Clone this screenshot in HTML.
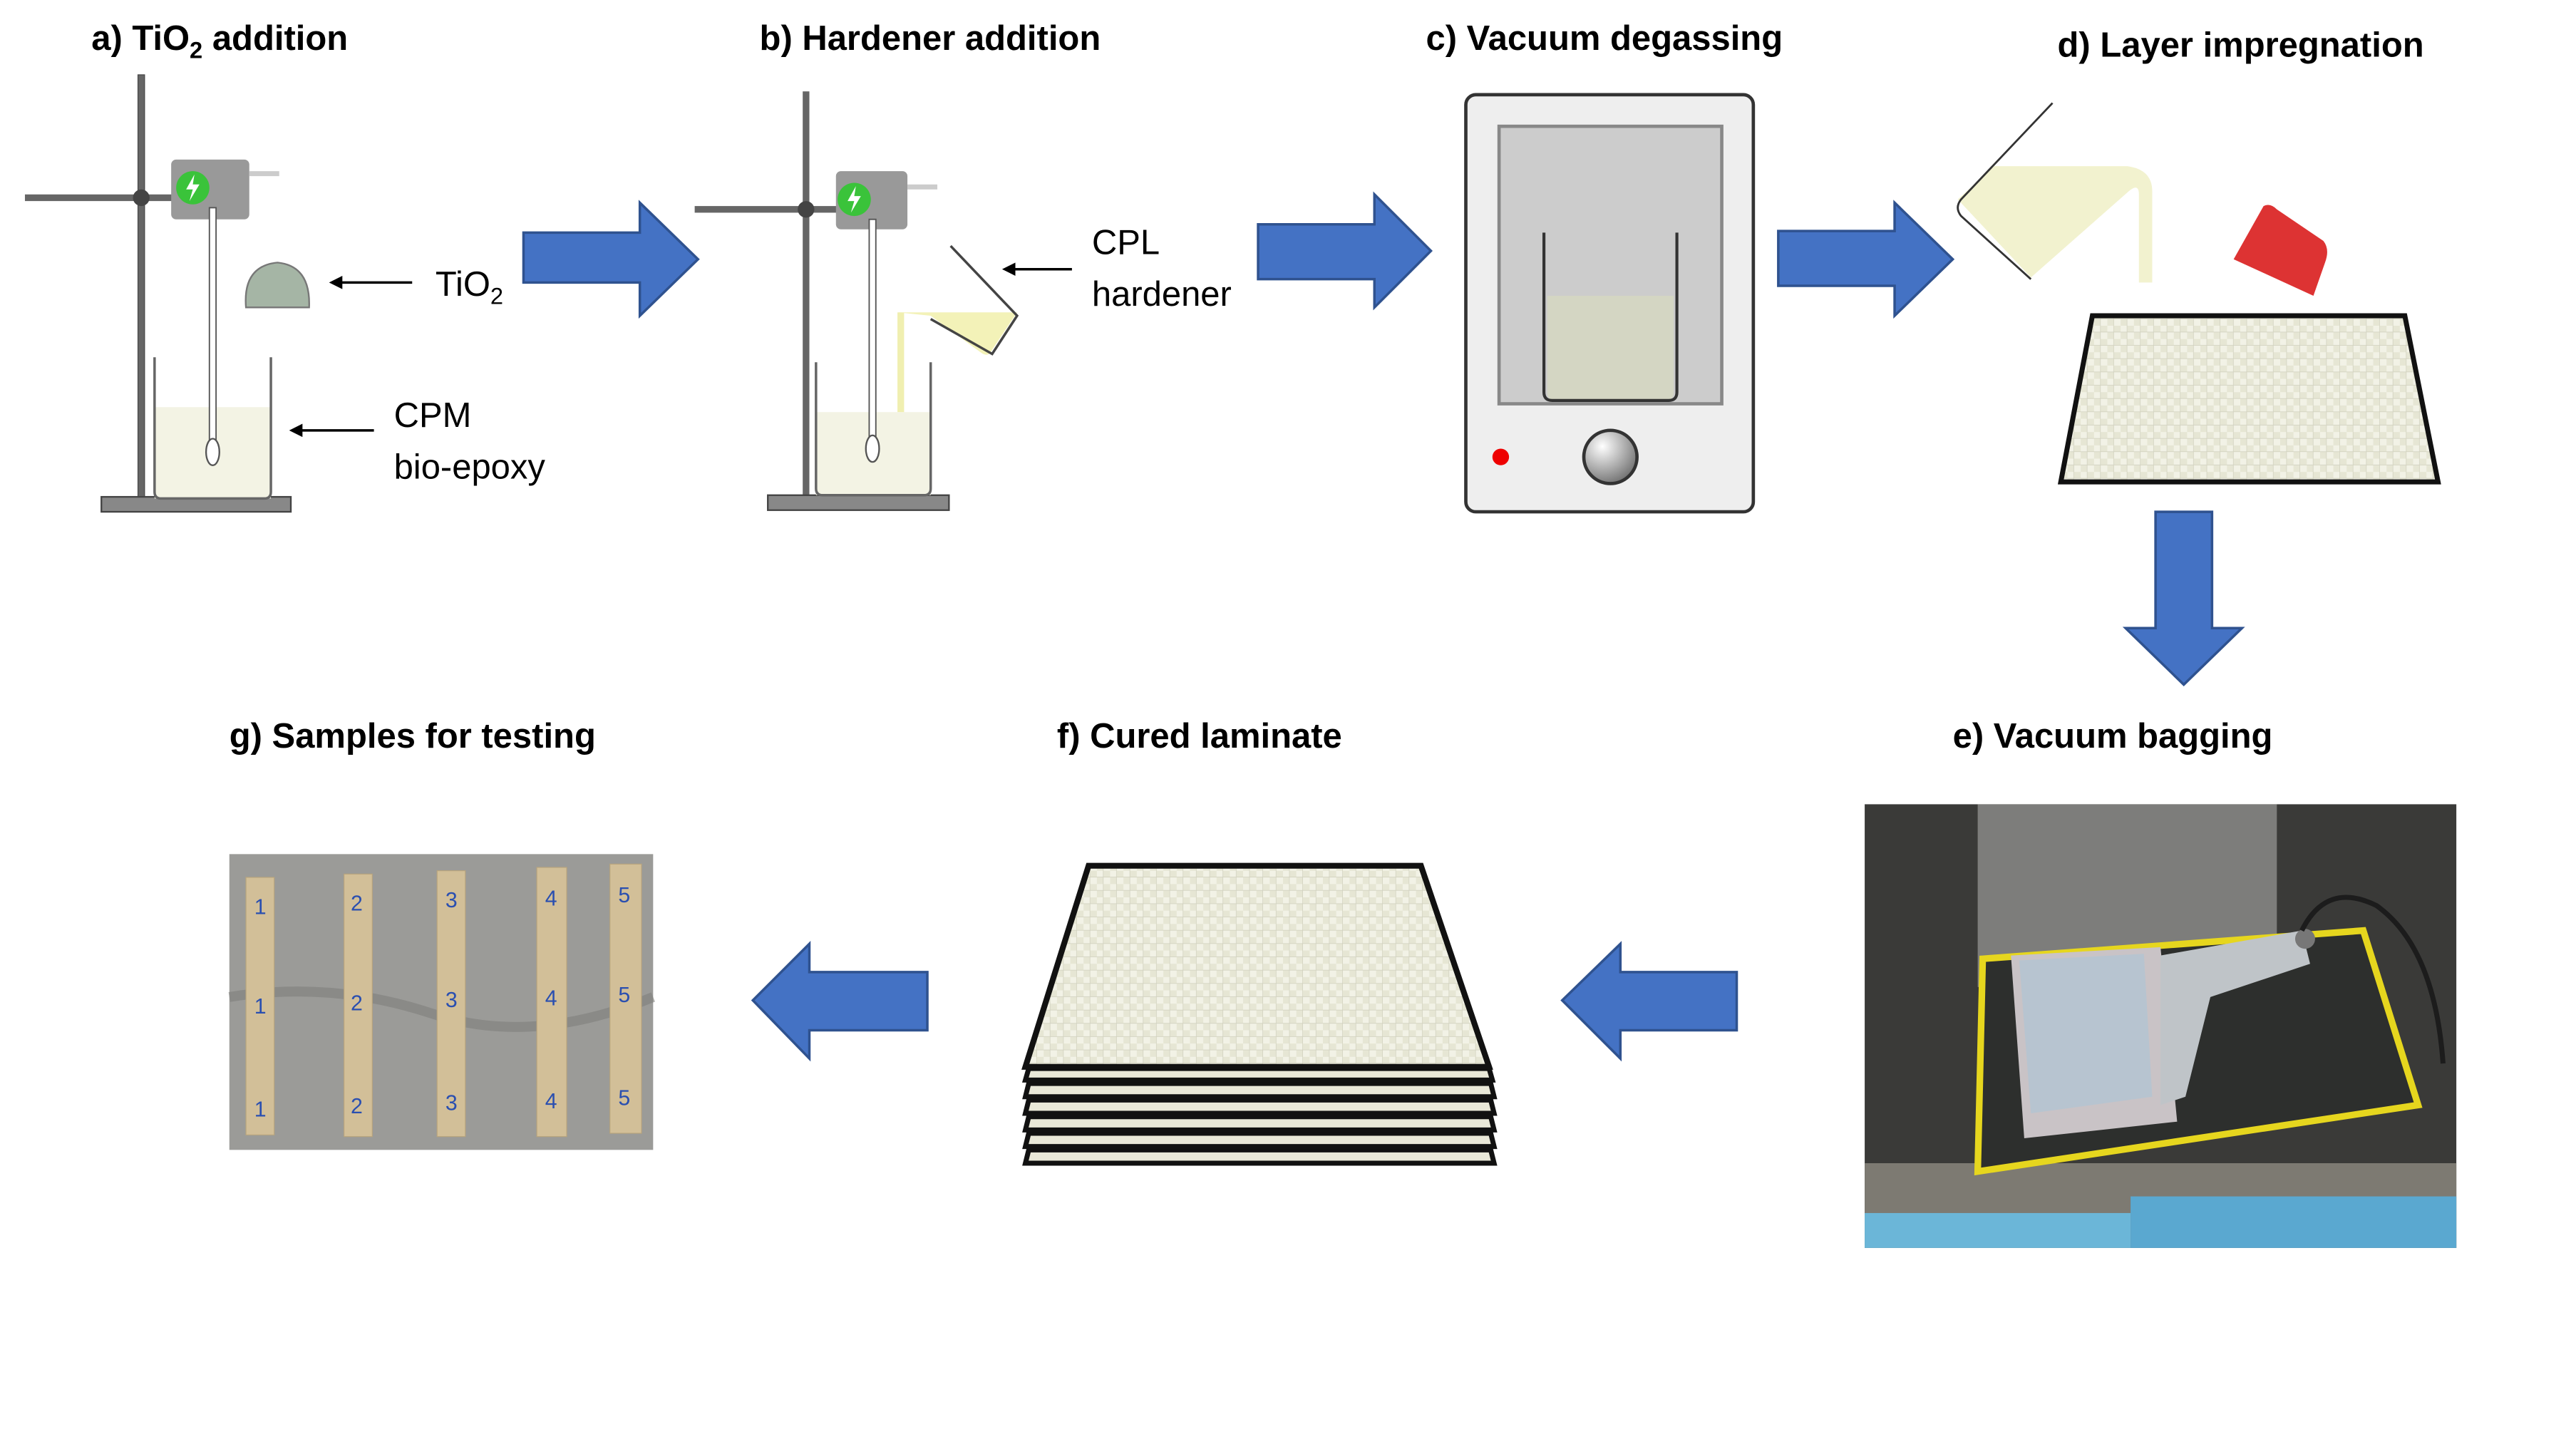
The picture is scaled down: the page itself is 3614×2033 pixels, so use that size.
<!DOCTYPE html>
<html><head><meta charset="utf-8">
<style>
html,body{margin:0;padding:0;background:#fff;}
svg{display:block;}
.t{font-family:"Liberation Sans",sans-serif;font-weight:bold;font-size:21px;fill:#000;}
.l{font-family:"Liberation Sans",sans-serif;font-size:21px;fill:#000;}
.n{font-family:"Liberation Sans",sans-serif;font-size:13px;fill:#2a4fb0;}
</style></head>
<body>
<svg width="3614" height="2033" viewBox="0 0 1550 872" preserveAspectRatio="none" xmlns="http://www.w3.org/2000/svg">
<defs>
<pattern id="weave" width="8" height="8" patternUnits="userSpaceOnUse">
<rect width="8" height="8" fill="#e6e6d4"/>
<rect x="0" y="0" width="4" height="4" fill="#f2f2e6"/>
<rect x="4" y="4" width="4" height="4" fill="#f2f2e6"/>
<path d="M0 8H8M8 0V8" stroke="#cfcfbd" stroke-width="0.6"/>
</pattern>
<radialGradient id="knob" cx="0.35" cy="0.3" r="0.8"><stop offset="0" stop-color="#fff"/><stop offset="1" stop-color="#666"/></radialGradient>
<marker id="ah" markerWidth="8" markerHeight="8" refX="6" refY="4" orient="auto" markerUnits="userSpaceOnUse"><path d="M0 0L8 4L0 8Z" fill="#000"/></marker>
</defs>

<text class="t" x="55" y="30">a) TiO<tspan font-size="14" dy="5">2</tspan><tspan dy="-5"> addition</tspan></text>
<text class="t" x="457" y="30">b) Hardener addition</text>
<text class="t" x="858" y="30">c) Vacuum degassing</text>
<text class="t" x="1238" y="34">d) Layer impregnation</text>
<text class="t" x="138" y="450">g) Samples for testing</text>
<text class="t" x="636" y="450">f) Cured laminate</text>
<text class="t" x="1175" y="450">e) Vacuum bagging</text>

<g fill="#4472C4" stroke="#2F528F" stroke-width="1.5">
<path d="M315 140H385V122L420 156L385 190V170H315Z"/>
<path d="M757 135H827V117L861 151L827 185V168H757Z"/>
<path d="M1070 139H1140V122L1175 156L1140 190V172H1070Z"/>
<path d="M1297 308H1331V378H1349L1314 412L1279 378H1297Z"/>
<path d="M1045 585H975V568L940 602L975 637V620H1045Z"/>
<path d="M558 585H487V568L453 602L487 637V620H558Z"/>
</g>

<g>
<rect x="83" y="45" width="4" height="256" fill="#666" stroke="#444" stroke-width="0.5"/>
<rect x="15" y="117" width="100" height="4" fill="#666"/>
<circle cx="85" cy="119" r="5" fill="#444"/>
<rect x="61" y="299" width="114" height="9" fill="#888" stroke="#444"/>
<rect x="93" y="245" width="70" height="55" fill="#f3f3e4"/>
<path d="M93 215V296Q93 300 97 300H159Q163 300 163 296V215" fill="none" stroke="#666" stroke-width="1.5"/>
<rect x="103" y="96" width="47" height="36" rx="3" fill="#999"/>
<rect x="150" y="103" width="18" height="3" fill="#ccc"/>
<rect x="126" y="125" width="4" height="150" fill="#fff" stroke="#555" stroke-width="0.8"/>
<ellipse cx="128" cy="272" rx="4" ry="8" fill="#fff" stroke="#555"/>
<circle cx="116" cy="113" r="10" fill="#3ac33a"/>
<path d="M117 105L112 114H116L114 121L120 111H116Z" fill="#fff"/>
<path d="M148 185Q146 160 167 158Q187 160 186 185Z" fill="#a5b5a5" stroke="#777"/>
<line x1="248" y1="170" x2="200" y2="170" stroke="#000" stroke-width="1.5" marker-end="url(#ah)"/>
<line x1="225" y1="259" x2="176" y2="259" stroke="#000" stroke-width="1.5" marker-end="url(#ah)"/>
<text class="l" x="262" y="178">TiO<tspan font-size="14" dy="5">2</tspan></text>
<text class="l" x="237" y="257">CPM</text>
<text class="l" x="237" y="288">bio-epoxy</text>
</g>

<g>
<rect x="483" y="55" width="4" height="245" fill="#666"/>
<rect x="418" y="124" width="102" height="4" fill="#666"/>
<circle cx="485" cy="126" r="5" fill="#444"/>
<rect x="462" y="298" width="109" height="9" fill="#888" stroke="#444"/>
<rect x="491" y="248" width="69" height="50" fill="#f3f3e4"/>
<path d="M491 218V294Q491 298 495 298H556Q560 298 560 294V218" fill="none" stroke="#666" stroke-width="1.5"/>
<rect x="540" y="188" width="4" height="60" fill="#f0efb0"/>
<path d="M540 188H612L596 212Q594 215 590 212L560 190Z" fill="#f3f2b8"/>
<path d="M572 148L612 190L597 213L560 192" fill="none" stroke="#444" stroke-width="1.5"/>
<rect x="503" y="103" width="43" height="35" rx="3" fill="#999"/>
<rect x="546" y="111" width="18" height="3" fill="#ccc"/>
<rect x="523" y="132" width="4" height="140" fill="#fff" stroke="#555" stroke-width="0.8"/>
<ellipse cx="525" cy="270" rx="4" ry="8" fill="#fff" stroke="#555"/>
<circle cx="514" cy="120" r="10" fill="#3ac33a"/>
<path d="M515 112L510 121H514L512 128L518 118H514Z" fill="#fff"/>
<line x1="645" y1="162" x2="605" y2="162" stroke="#000" stroke-width="1.5" marker-end="url(#ah)"/>
<text class="l" x="657" y="153">CPL</text>
<text class="l" x="657" y="184">hardener</text>
</g>

<g>
<rect x="882" y="57" width="173" height="251" rx="6" fill="#eee" stroke="#333" stroke-width="2"/>
<rect x="902" y="76" width="134" height="167" fill="#ccc" stroke="#888" stroke-width="2"/>
<path d="M931 178H1007V236Q1007 241 1002 241H936Q931 241 931 236Z" fill="#d4d6c3"/>
<path d="M929 140V236Q929 241 934 241H1004Q1009 241 1009 236V140" fill="none" stroke="#333" stroke-width="1.8"/>
<circle cx="903" cy="275" r="5" fill="#e00"/>
<circle cx="969" cy="275" r="16" fill="url(#knob)" stroke="#333" stroke-width="2"/>
</g>

<g>
<path d="M1200 100L1280 100Q1295 102 1295 115V170H1287V117Q1287 110 1281 115L1222 167L1178 120Z" fill="#f2f2cf"/>
<path d="M1235 62L1180 120Q1176 125 1180 130L1222 168" fill="none" stroke="#333" stroke-width="1.2"/>
<path d="M1344 156L1362 124Q1366 122 1370 126L1398 145Q1402 150 1399 158L1392 178Z" fill="#dd3333"/>
<path d="M1259 190H1447L1467 290H1240Z" fill="url(#weave)" stroke="#111" stroke-width="3"/>
</g>

<g>
<rect x="1122" y="484" width="356" height="267" fill="#3a3a38"/>
<rect x="1190" y="484" width="180" height="110" fill="#8e8e8c" opacity="0.8"/>
<rect x="1122" y="700" width="356" height="51" fill="#7d7a72"/>
<rect x="1122" y="730" width="160" height="21" fill="#6bb6d8"/>
<rect x="1282" y="720" width="196" height="31" fill="#5aa8d0"/>
<path d="M1193 577L1422 560L1455 665L1190 705Z" fill="#2d2f2d" stroke="#e6d61e" stroke-width="4"/>
<path d="M1210 575L1300 570L1310 675L1218 685Z" fill="#c9c3c6"/>
<path d="M1215 578L1290 574L1295 660L1222 670Z" fill="#b7c4d0"/>
<path d="M1300 575L1385 560L1390 580L1330 600L1315 660L1300 665Z" fill="#bfc4c8"/>
<circle cx="1387" cy="565" r="6" fill="#777"/>
<path d="M1385 560Q1400 530 1430 545Q1465 570 1470 640" fill="none" stroke="#1c1c1c" stroke-width="3"/>
</g>

<g stroke="#111" stroke-width="3">
<path d="M619 692H897L899 700H617Z" fill="#e9e8d8"/>
<path d="M619 682H897L899 690H617Z" fill="#e9e8d8"/>
<path d="M619 672H897L899 680H617Z" fill="#e9e8d8"/>
<path d="M619 662H897L899 670H617Z" fill="#e9e8d8"/>
<path d="M619 652H897L899 660H617Z" fill="#e9e8d8"/>
<path d="M619 643H896L898 650H617Z" fill="#e9e8d8"/>
<path d="M655 521H855L896 642H617Z" fill="url(#weave)" stroke-width="3.5"/>
</g>

<g>
<rect x="138" y="514" width="255" height="178" fill="#9b9b98"/>
<path d="M138 600Q200 590 260 610T393 600" stroke="#7e7e7c" stroke-width="6" fill="none" opacity="0.6"/>
<g fill="#d2bf98" stroke="#b8a47c" stroke-width="0.5">
<rect x="148" y="528" width="17" height="155"/>
<rect x="207" y="526" width="17" height="158"/>
<rect x="263" y="524" width="17" height="160"/>
<rect x="323" y="522" width="18" height="162"/>
<rect x="367" y="520" width="19" height="162"/>
</g>
<text class="n" x="153" y="550">1</text><text class="n" x="211" y="548">2</text><text class="n" x="268" y="546">3</text><text class="n" x="328" y="545">4</text><text class="n" x="372" y="543">5</text>
<text class="n" x="153" y="610">1</text><text class="n" x="211" y="608">2</text><text class="n" x="268" y="606">3</text><text class="n" x="328" y="605">4</text><text class="n" x="372" y="603">5</text>
<text class="n" x="153" y="672">1</text><text class="n" x="211" y="670">2</text><text class="n" x="268" y="668">3</text><text class="n" x="328" y="667">4</text><text class="n" x="372" y="665">5</text>
</g>
</svg>
</body></html>
